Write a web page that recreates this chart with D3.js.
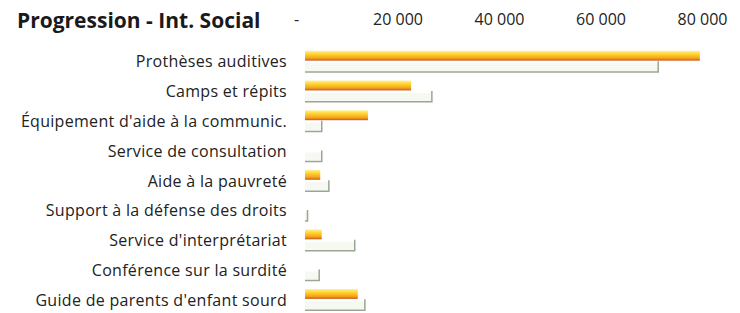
<!DOCTYPE html>
<html>
<head>
<meta charset="utf-8">
<script src="https://cdn.jsdelivr.net/npm/d3@7"></script>
<style>
body { margin: 0; background: #fff; }
svg { display: block; }
</style>
</head>
<body>
<svg id="chart" width="740" height="313"></svg>
<script>
var categories = [
    'Prothèses auditives',
    'Camps et répits',
    "Équipement d'aide à la communic.",
    'Service de consultation',
    'Aide à la pauvreté',
    'Support à la défense des droits',
    "Service d'interprétariat",
    'Conférence sur la surdité',
    "Guide de parents d'enfant sourd"
];
var seriesNames = ['actuel', 'precedent'];
var actuel = [77800, 20900, 12400, 0, 3000, 0, 3300, 0, 10400];
var precedent = [69600, 25000, 3300, 3300, 4700, 500, 9800, 2800, 11800];
var tickValues = [0, 20000, 40000, 60000, 80000];

var svg = d3.select('#chart');

var x = d3.scaleLinear()
    .domain([0, 80000])
    .range([305, 711]);

var y = d3.scaleBand()
    .domain(categories)
    .range([47, 315])
    .paddingInner(0)
    .paddingOuter(0);

var inner = d3.scaleBand()
    .domain(seriesNames)
    .range([0, y.bandwidth()])
    .paddingInner(0.2)
    .paddingOuter(0.3);

var defs = svg.append('defs');
var grad = defs.append('linearGradient')
    .attr('id', 'orange')
    .attr('x1', 0).attr('y1', 0)
    .attr('x2', 0).attr('y2', 1);
grad.append('stop').attr('offset', '0%').attr('stop-color', '#fff0a0');
grad.append('stop').attr('offset', '35%').attr('stop-color', '#ffd42a');
grad.append('stop').attr('offset', '75%').attr('stop-color', '#f5a21c');
grad.append('stop').attr('offset', '100%').attr('stop-color', '#c8571a');

// title
svg.append('text')
    .attr('x', 17)
    .attr('y', 28)
    .attr('font-family', 'Open Sans, sans-serif')
    .attr('font-weight', 'bold')
    .attr('font-size', 21)
    .attr('fill', '#1a1a1a')
    .text('Progression - Int. Social');

// top axis
var axis = d3.axisTop(x)
    .tickValues(tickValues)
    .tickSize(0)
    .tickFormat(function(d) {
        return d === 0 ? '-' : d3.format(',')(d).replace(',', ' ');
    });

var gAxis = svg.append('g')
    .attr('transform', 'translate(-9,28)')
    .call(axis);
gAxis.select('.domain').remove();
gAxis.selectAll('text')
    .attr('font-family', 'Open Sans, sans-serif')
    .attr('font-size', 16)
    .attr('fill', '#222')
    .attr('dy', 0);

// category labels
svg.append('g')
    .selectAll('text')
    .data(categories)
    .enter()
    .append('text')
    .attr('x', 287)
    .attr('y', function(d) { return y(d) + y.bandwidth() / 2; })
    .attr('dy', '0.35em')
    .attr('text-anchor', 'end')
    .attr('font-family', 'Open Sans, sans-serif')
    .attr('font-size', 16)
    .attr('letter-spacing', 0.3)
    .attr('fill', '#222')
    .text(function(d) { return d; });

// bars: current (orange)
var rows = categories.map(function(c, i) {
    return { cat: c, a: actuel[i], p: precedent[i] };
});

svg.append('g')
    .selectAll('rect')
    .data(rows.filter(function(d) { return d.a > 0; }))
    .enter()
    .append('rect')
    .attr('x', x(0))
    .attr('y', function(d) { return y(d.cat) + inner('actuel'); })
    .attr('width', function(d) { return x(d.a) - x(0); })
    .attr('height', inner.bandwidth())
    .attr('fill', 'url(#orange)');

// bars: previous (white with grey shadow edge)
var gPrev = svg.append('g');
gPrev.selectAll('rect')
    .data(rows.filter(function(d) { return d.p > 0; }))
    .enter()
    .append('rect')
    .attr('x', x(0))
    .attr('y', function(d) { return y(d.cat) + inner('precedent'); })
    .attr('width', function(d) { return x(d.p) - x(0); })
    .attr('height', inner.bandwidth() - 2)
    .attr('fill', '#f6f8f2');

gPrev.selectAll('path')
    .data(rows.filter(function(d) { return d.p > 0; }))
    .enter()
    .append('path')
    .attr('d', function(d) {
        var y0 = y(d.cat) + inner('precedent');
        var y1 = y0 + inner.bandwidth() - 1;
        var x0 = x(0), x1 = x(d.p);
        return 'M' + x0 + ',' + y1 + 'H' + x1 + 'V' + (y0 - 2);
    })
    .attr('fill', 'none')
    .attr('stroke', '#9ba692')
    .attr('stroke-width', 1.5);
</script>
</body>
</html>
